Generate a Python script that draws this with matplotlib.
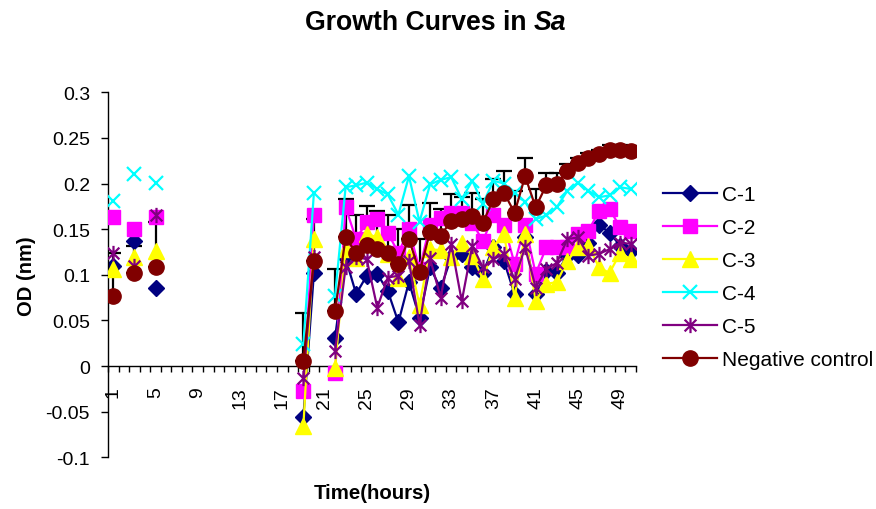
import numpy as np
import matplotlib
matplotlib.use("Agg")
import matplotlib.pyplot as plt
from matplotlib.path import Path

plt.rcParams['font.family'] = ['Liberation Sans', 'DejaVu Sans']

# ---- data -------------------------------------------------------------
hours = list(range(1, 51))
nan = np.nan

# readings at hours 1, 3, 5 and 19-50 (hour 21 missing)
early_hours = [1, 3, 5]
late_hours = [19, 20, 21, 22, 23, 24, 25, 26, 27, 28, 29, 30, 31, 32, 33, 34,
              35, 36, 37, 38, 39, 40, 41, 42, 43, 44, 45, 46, 47, 48, 49, 50]

c1_early = [0.110, 0.137, 0.086]
c1_late = [-0.056, 0.102, nan, 0.031, 0.118, 0.079, 0.099, 0.101, 0.082, 0.048,
           0.092, 0.053, 0.108, 0.085, 0.119, 0.123, 0.108, 0.102, 0.130, 0.115,
           0.079, 0.141, 0.079, 0.104, 0.102, 0.121, 0.122, 0.135, 0.155, 0.146,
           0.132, 0.126]

c2_early = [0.163, 0.150, 0.163]
c2_late = [-0.027, 0.166, nan, -0.008, 0.174, 0.139, 0.158, 0.161, 0.146, 0.124,
           0.150, 0.106, 0.155, 0.162, 0.168, 0.168, 0.157, 0.137, 0.165, 0.155,
           0.112, 0.155, 0.101, 0.130, 0.130, 0.130, 0.145, 0.148, 0.170, 0.172,
           0.152, 0.148]

c3_early = [0.106, 0.119, 0.126]
c3_late = [-0.066, 0.139, nan, -0.002, 0.128, 0.118, 0.145, 0.141, 0.123, 0.097,
           0.120, 0.067, 0.128, 0.127, 0.119, 0.135, 0.121, 0.095, 0.130, 0.145,
           0.075, 0.145, 0.071, 0.090, 0.092, 0.115, 0.130, 0.132, 0.108, 0.102,
           0.124, 0.117]

c4_early = [0.181, 0.210, 0.201]
c4_late = [0.024, 0.190, nan, 0.077, 0.196, 0.198, 0.201, 0.194, 0.188, 0.166,
           0.208, 0.158, 0.199, 0.204, 0.207, 0.183, 0.203, 0.178, 0.203, 0.200,
           0.190, 0.180, 0.161, 0.165, 0.174, 0.192, 0.201, 0.192, 0.185, 0.187,
           0.196, 0.194]

c5_early = [0.124, 0.110, 0.165]
c5_late = [-0.013, 0.120, nan, 0.016, 0.108, 0.120, 0.117, 0.064, 0.097, 0.099,
           0.115, 0.045, 0.118, 0.075, 0.134, 0.071, 0.132, 0.108, 0.117, 0.123,
           0.095, 0.130, 0.086, 0.106, 0.113, 0.139, 0.141, 0.121, 0.123, 0.128,
           0.135, 0.134]

nc_early = [0.077, 0.102, 0.108]
nc_late = [0.0055, 0.115, nan, 0.060, 0.141, 0.124, 0.133, 0.128, 0.124, 0.112,
           0.139, 0.103, 0.147, 0.143, 0.159, 0.161, 0.164, 0.157, 0.183, 0.190,
           0.168, 0.208, 0.174, 0.198, 0.199, 0.214, 0.223, 0.228, 0.232, 0.237,
           0.237, 0.236]

# upper error of the negative control
nc_err_early = [0.047, 0.030, 0.050]
nc_err_late = [0.053, 0.046, nan, 0.046, 0.042, 0.041, 0.042, 0.042, 0.041, 0.038,
               0.037, 0.036, 0.032, 0.029, 0.029, 0.024, 0.026, 0.026, 0.022, 0.024,
               0.024, 0.020, 0.020, 0.014, 0.013, 0.007, 0.005, 0.005, 0.005, 0.005,
               0.005, 0.005]

series_names = ["C-1", "C-2", "C-3", "C-4", "C-5", "Negative control"]
y_ticks = [-0.1, -0.05, 0, 0.05, 0.1, 0.15, 0.2, 0.25, 0.3]
y_tick_labels = ["-0.1", "-0.05", "0", "0.05", "0.1", "0.15", "0.2", "0.25", "0.3"]
x_label_hours = list(range(1, 51, 4))


def full_series(early, late):
    """Spread readings over the 50 hourly slots, blanks stay NaN."""
    out = np.full(len(hours), np.nan)
    for h, v in zip(early_hours, early):
        out[h - 1] = v
    for h, v in zip(late_hours, late):
        out[h - 1] = v
    return out


values = [full_series(c1_early, c1_late), full_series(c2_early, c2_late),
          full_series(c3_early, c3_late), full_series(c4_early, c4_late),
          full_series(c5_early, c5_late), full_series(nc_early, nc_late)]
nc_err = full_series(nc_err_early, nc_err_late)

# X with a vertical bar through it
star_path = Path([(-1, -1), (1, 1), (-1, 1), (1, -1), (0, -1.3), (0, 1.3)],
                 [Path.MOVETO, Path.LINETO, Path.MOVETO, Path.LINETO,
                  Path.MOVETO, Path.LINETO])

styles = [
    dict(color="#000080", marker="D", ms=8.5, mfc="#000080", mec="#000080", lw=1.6),
    dict(color="#FF00FF", marker="s", ms=10, mfc="#FF00FF", mec="#FF00FF", lw=1.6),
    dict(color="#FFFF00", marker="^", ms=11, mfc="#FFFF00", mec="#FFFF00", lw=1.6),
    dict(color="#00FFFF", marker="x", ms=9.5, mfc="none", mec="#00FFFF", mew=1.6, lw=1.6),
    dict(color="#800080", marker=star_path, ms=11, mfc="none", mec="#800080", mew=1.6, lw=1.6),
    dict(color="#800000", marker="o", ms=11, mfc="#800000", mec="#800000", lw=1.6),
]

# ---- figure -----------------------------------------------------------
fig = plt.figure(figsize=(8.76, 5.10), dpi=100)
ax = fig.add_axes([0.1233, 0.1014, 0.6027, 0.7157])

x = np.array(hours, dtype=float)
nc = values[-1]
ax.errorbar(x, nc, yerr=[np.zeros_like(nc), nc_err], fmt="none",
            ecolor="black", elinewidth=1.6, capsize=5.5, capthick=1.6, zorder=1.5)

handles = []
for i, (name, vals, st) in enumerate(zip(series_names, values, styles)):
    h, = ax.plot(x, vals, label=name, zorder=2 + i, **st)
    handles.append(h)

ax.set_xlim(0.5, 50.5)
ax.set_ylim(-0.1, 0.3)

for s in ("top", "right"):
    ax.spines[s].set_visible(False)
ax.spines["bottom"].set_position(("data", 0))
ax.spines["left"].set_linewidth(1.0)
ax.spines["bottom"].set_linewidth(1.0)

ax.set_yticks(y_ticks)
ax.set_yticklabels(y_tick_labels)
ax.tick_params(axis="y", direction="out", length=5, width=1, pad=8, labelsize=14)

ax.set_xticks(x_label_hours)
ax.set_xticklabels([str(h) for h in x_label_hours], rotation=90, va="top")
ax.set_xticks(np.arange(0.5, 50.6, 1.0), minor=True)
ax.tick_params(axis="x", which="major", length=0, pad=14.5, labelsize=14)
ax.tick_params(axis="x", which="minor", direction="out", length=4, width=1)

ax.set_ylabel("OD (nm)", fontsize=14.5, fontweight="bold")
ax.yaxis.set_label_coords(-0.137, 0.5)
fig.text(0.4247, 0.033, "Time(hours)", fontsize=14.7, fontweight="bold",
         ha="center", va="center")

leg = fig.legend(handles=handles, loc="upper left", bbox_to_anchor=(0.747, 0.651),
                 frameon=False, fontsize=15, handlelength=2.6, handletextpad=0.25,
                 labelspacing=0.67, numpoints=1, borderaxespad=0)

# title: plain bold text followed by the bold-italic organism abbreviation
fig.canvas.draw()
r = fig.canvas.get_renderer()
t1 = fig.text(0, 0.955, "Growth Curves in ", fontsize=19.2, fontweight="bold",
              ha="left", va="center")
t2 = fig.text(0, 0.955, "Sa", fontsize=19.2, fontweight="bold", fontstyle="italic",
              ha="left", va="center")
w1 = t1.get_window_extent(r).width
w2 = t2.get_window_extent(r).width
cx = 0.497 * fig.bbox.width
start = cx - (w1 + w2) / 2
t1.set_x(start / fig.bbox.width)
t2.set_x((start + w1) / fig.bbox.width)

fig.savefig("out.png", dpi=100)
